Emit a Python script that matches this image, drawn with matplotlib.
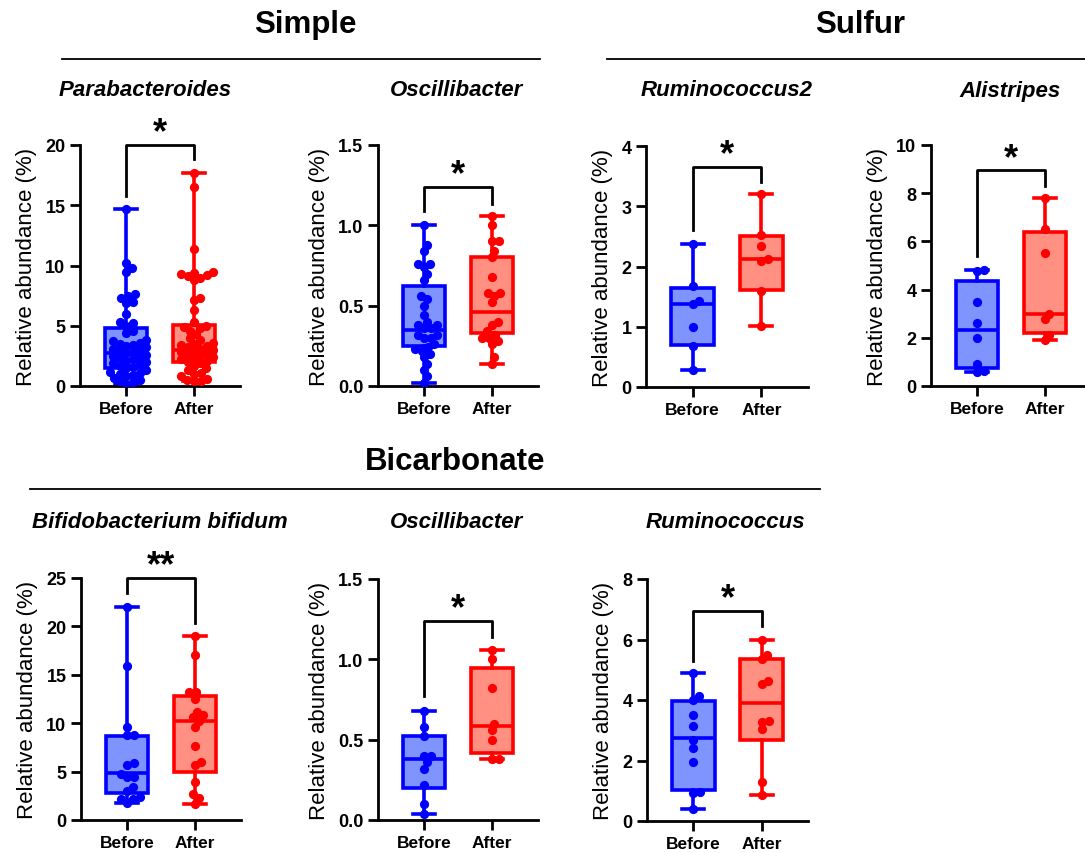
import numpy as np
import matplotlib.pyplot as plt
from matplotlib.lines import Line2D

plt.rcParams['font.family'] = ['Liberation Sans', 'DejaVu Sans']

groups = ['Before', 'After']

# --- Simple: Parabacteroides
para_before = [14.7, 10.2, 9.8, 9.5, 7.6, 7.5, 7.3, 7.0, 6.9, 6.0, 5.3, 5.2, 5.0, 4.6, 4.4,
               3.8, 3.7, 3.6, 3.5, 3.4, 3.3, 3.2, 3.1, 3.0, 2.9, 2.8, 2.7, 2.6, 2.5, 2.4,
               2.3, 2.2, 2.1, 2.0, 1.9, 1.8, 1.7, 1.6, 1.5, 1.3, 1.2, 1.1, 1.0, 0.9, 0.8,
               0.7, 0.5, 0.4, 0.3, 0.2]
para_after = [17.7, 16.5, 11.4, 9.5, 9.4, 9.3, 9.2, 9.1, 9.0, 8.8, 7.3, 7.1, 6.3, 5.3, 5.0,
              4.9, 4.8, 4.6, 4.3, 4.0, 3.8, 3.6, 3.5, 3.4, 3.3, 3.2, 3.1, 3.0, 2.9, 2.8,
              2.7, 2.6, 2.5, 2.4, 2.3, 2.2, 2.1, 2.0, 1.9, 1.7, 1.5, 1.3, 1.1, 1.0, 0.8,
              0.6, 0.5, 0.4, 0.4]
# box stats: min, q1, median, q3, max
para_box = [[0.2, 1.5, 2.7, 4.8, 14.7], [0.4, 2.0, 3.0, 5.1, 17.7]]

# --- Simple: Oscillibacter
osc_s_before = [1.0, 0.88, 0.84, 0.76, 0.76, 0.74, 0.70, 0.66, 0.56, 0.54, 0.50, 0.44, 0.40,
                0.38, 0.38, 0.36, 0.36, 0.32, 0.32, 0.30, 0.30, 0.26, 0.24, 0.23, 0.22,
                0.20, 0.18, 0.14, 0.10, 0.06, 0.02]
osc_s_after = [1.06, 1.0, 0.90, 0.90, 0.84, 0.80, 0.68, 0.58, 0.58, 0.56, 0.52, 0.40, 0.38,
               0.34, 0.32, 0.30, 0.30, 0.28, 0.26, 0.18, 0.14]
osc_s_box = [[0.02, 0.25, 0.35, 0.62, 1.0], [0.14, 0.33, 0.46, 0.80, 1.06]]

# --- Sulfur: Ruminococcus2
rum2_before = [2.37, 1.68, 1.42, 1.38, 1.0, 0.68, 0.28]
rum2_after = [3.2, 2.52, 2.34, 2.12, 2.09, 1.59, 1.02]
rum2_box = [[0.28, 0.69, 1.37, 1.65, 2.37], [1.02, 1.61, 2.12, 2.51, 3.2]]

# --- Sulfur: Alistripes
ali_before = [4.82, 4.78, 3.5, 2.6, 2.0, 0.9, 0.62, 0.6]
ali_after = [7.8, 6.5, 5.52, 3.0, 2.77, 2.12, 1.9]
ali_box = [[0.6, 0.76, 2.33, 4.36, 4.82], [1.9, 2.2, 2.98, 6.4, 7.8]]

# --- Bicarbonate: Bifidobacterium bifidum
bif_before = [22.0, 15.9, 9.6, 8.8, 8.8, 5.9, 5.7, 4.8, 4.4, 4.4, 3.4, 3.0, 2.4, 2.2, 2.2, 1.8]
bif_after = [19.0, 17.0, 13.2, 13.2, 12.5, 11.2, 10.8, 10.6, 10.2, 9.6, 7.6, 6.0, 5.7, 3.9,
             2.7, 2.3, 1.7]
bif_box = [[1.8, 2.8, 4.86, 8.72, 22.0], [1.7, 4.93, 10.2, 12.76, 19.0]]

# --- Bicarbonate: Oscillibacter
osc_b_before = [0.68, 0.58, 0.52, 0.40, 0.40, 0.36, 0.32, 0.22, 0.10, 0.04]
osc_b_after = [1.06, 1.0, 0.82, 0.60, 0.56, 0.50, 0.38, 0.38]
osc_b_box = [[0.04, 0.2, 0.38, 0.525, 0.68], [0.38, 0.417, 0.583, 0.946, 1.06]]

# --- Bicarbonate: Ruminococcus
rum_before = [4.9, 4.12, 4.0, 3.52, 3.15, 2.68, 2.4, 1.95, 0.96, 0.92, 0.4]
rum_after = [6.0, 5.5, 5.35, 4.62, 4.52, 3.3, 3.28, 3.05, 1.3, 0.85]
rum_box = [[0.4, 1.02, 2.73, 3.97, 4.9], [0.85, 2.68, 3.9, 5.34, 6.0]]

edge_colors = ['#0000FF', '#FF0000']
fill_colors = ['#7F94FF', '#FF9082']

W, H = 1085, 854
fig = plt.figure(figsize=(W / 100, H / 100), dpi=100)


def swarm(vals, px_per_unit, dot=6.8):
    # simple deterministic beeswarm in pixel space (dots may overlap a little)
    vals = np.asarray(vals, dtype=float)
    order = np.argsort(vals)
    xs = np.zeros(len(vals))
    placed = []
    for i in order:
        y = vals[i] * px_per_unit
        near = [(px, py) for px, py in placed if abs(py - y) < dot]
        x = 0.0
        for k in range(400):
            cands = [0.0] if k == 0 else [k * 0.5, -k * 0.5]
            ok = None
            for c in cands:
                if all((c - px) ** 2 + (y - py) ** 2 >= dot ** 2 for px, py in near):
                    ok = c
                    break
            if ok is not None:
                x = ok
                break
        xs[i] = x
        placed.append((x, y))
    return xs


def panel(rect, before, after, box, ymax, yticks, fmt, bracket, stars):
    x0, top, bot, w = rect
    ax = fig.add_axes([x0 / W, 1 - bot / H, w / W, (bot - top) / H])
    xlim = (-0.68, 1.68)
    stats = []
    for b in box:
        stats.append(dict(whislo=b[0], q1=b[1], med=b[2], q3=b[3], whishi=b[4], fliers=[]))
    for i in range(2):
        ax.bxp([stats[i]], positions=[i], widths=0.62, capwidths=0.32, patch_artist=True,
               showfliers=False,
               boxprops=dict(facecolor=fill_colors[i], edgecolor=edge_colors[i], linewidth=2.6),
               medianprops=dict(color=edge_colors[i], linewidth=2.6),
               whiskerprops=dict(color=edge_colors[i], linewidth=2.6),
               capprops=dict(color=edge_colors[i], linewidth=2.6))
    px_per_unit = (bot - top) / ymax
    data_per_px = (xlim[1] - xlim[0]) / w
    for i, vals in enumerate([before, after]):
        off = swarm(vals, px_per_unit)
        ax.scatter(i + off * data_per_px, vals, s=44, color=edge_colors[i], zorder=4,
                   linewidths=0)
    ax.set_xlim(*xlim)
    ax.set_ylim(0, ymax)
    ax.set_yticks(yticks)
    ax.set_yticklabels([fmt.format(t) for t in yticks], fontweight='bold', fontsize=13)
    ax.set_xticks([0, 1])
    ax.set_xticklabels(groups, fontweight='bold', fontsize=12.5)
    for s in ['top', 'right']:
        ax.spines[s].set_visible(False)
    for s in ['left', 'bottom']:
        ax.spines[s].set_linewidth(2.0)
    ax.tick_params(width=2.0, length=7)
    ax.set_ylabel('Relative abundance (%)', fontsize=16, labelpad=6)
    lo, hi, r = bracket
    ax.plot([0, 0, 1, 1], [lo, hi, hi, r], color='black', lw=2.0, clip_on=False)
    ax.annotate(stars, xy=(0.5, hi), xytext=(0, -4), textcoords='offset points',
                ha='center', va='bottom', fontsize=26, fontweight='bold', annotation_clip=False)
    return ax


f1 = '{:g}'
f2 = '{:.1f}'
panel((80, 146, 387, 160), para_before, para_after, para_box,
      20, [0, 5, 10, 15, 20], f1, (15.8, 20, 18.8), '*')
panel((378, 146, 387, 160), osc_s_before, osc_s_after, osc_s_box,
      1.5, [0, 0.5, 1.0, 1.5], f2, (1.09, 1.24, 1.13), '*')
panel((646, 147, 388, 162), rum2_before, rum2_after, rum2_box,
      4, [0, 1, 2, 3, 4], f1, (2.6, 3.65, 3.4), '*')
panel((931, 146, 387, 160), ali_before, ali_after, ali_box,
      10, [0, 2, 4, 6, 8, 10], f1, (5.4, 8.95, 8.3), '*')
panel((81, 579, 821, 160), bif_before, bif_after, bif_box,
      25, [0, 5, 10, 15, 20, 25], f1, (23.4, 25, 20.4), '**')
panel((378, 580, 821, 160), osc_b_before, osc_b_after, osc_b_box,
      1.5, [0, 0.5, 1.0, 1.5], f2, (0.77, 1.24, 1.14), '*')
panel((647, 580, 822, 161), rum_before, rum_after, rum_box,
      8, [0, 2, 4, 6, 8], f1, (5.3, 6.95, 6.45), '*')

# panel titles
titles = [('Parabacteroides', 145, 91), ('Oscillibacter', 457, 91),
          ('Ruminococcus2', 727, 91), ('Alistripes', 1010, 91),
          ('Bifidobacterium bifidum', 160, 523), ('Oscillibacter', 457, 523),
          ('Ruminococcus', 725, 523)]
for t, x, y in titles:
    fig.text(x / W, 1 - y / H, t, ha='center', va='center', fontsize=16,
             fontweight='bold', fontstyle='italic')

# group headers with underline
headers = [('Simple', 305, 25, 62, 540, 60), ('Sulfur', 860, 25, 607, 1085, 60),
           ('Bicarbonate', 455, 462, 30, 820, 490)]
for t, x, y, l0, l1, ly in headers:
    fig.text(x / W, 1 - y / H, t, ha='center', va='center', fontsize=22.5, fontweight='bold')
    fig.add_artist(Line2D([l0 / W, l1 / W], [1 - ly / H, 1 - ly / H], color='black',
                          lw=1.3, transform=fig.transFigure))

fig.savefig('out.png', dpi=100)
